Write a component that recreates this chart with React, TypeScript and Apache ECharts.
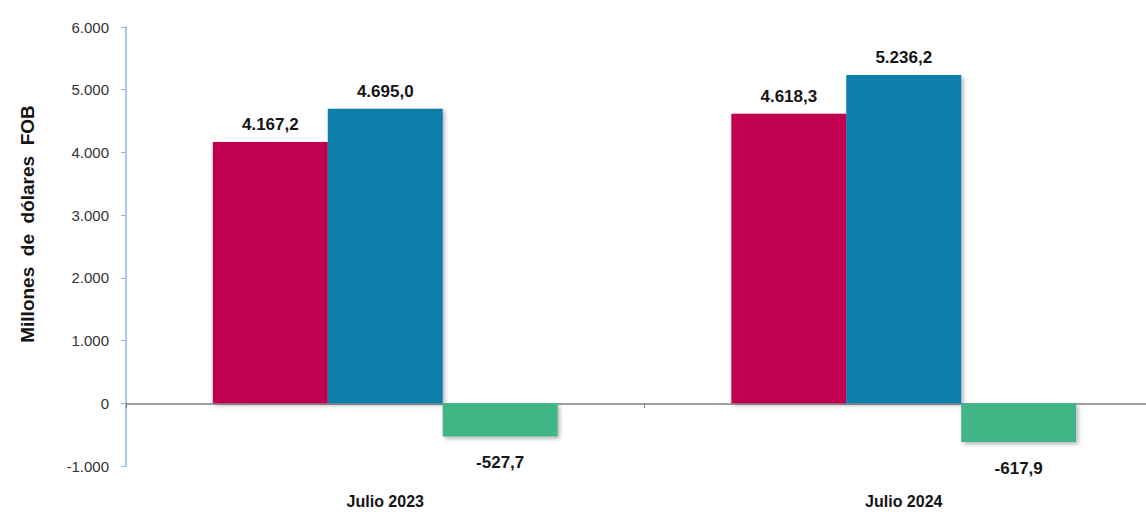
import React, { useEffect, useRef } from "react";
import * as echarts from "echarts";

const categories = ["Julio 2023", "Julio 2024"];
const seriesNames = ["Exportaciones", "Importaciones", "Balanza"];
const exportsValues = [4167.2, 4618.3];
const importsValues = [4695.0, 5236.2];
const balanceValues = [-527.7, -617.9];
const yTicks = { min: -1000, max: 6000, interval: 1000 };
const yAxisTitle = "Millones  de  dólares  FOB";

const colors = ["#C1004F", "#087DAA", "#3FB687"];

function fmtThousands(v: number): string {
  const neg = v < 0;
  const s = Math.abs(Math.round(v)).toString().replace(/\B(?=(\d{3})+(?!\d))/g, ".");
  return (neg ? "-" : "") + s;
}
function fmtValue(v: number): string {
  const neg = v < 0;
  const fixed = Math.abs(v).toFixed(1);
  const [ip, dp] = fixed.split(".");
  const s = ip.replace(/\B(?=(\d{3})+(?!\d))/g, ".");
  return (neg ? "-" : "") + s + "," + dp;
}

export default function App() {
  const ref = useRef<HTMLDivElement>(null);
  useEffect(() => {
    if (!ref.current) return;
    const chart = echarts.init(ref.current, undefined, { renderer: "svg" });
    const font = "'Liberation Sans', Arial, sans-serif";
    const mkSeries = (name: string, data: number[], color: string) => ({
      name,
      type: "bar",
      xAxisIndex: 0,
      data,
      barGap: "0%",
      barCategoryGap: "33.5%",
      itemStyle: {
        color,
        shadowColor: "rgba(0,0,0,0.3)",
        shadowBlur: 4,
        shadowOffsetX: 2,
        shadowOffsetY: 2,
      },
      label: {
        show: true,
        position: data[0] < 0 ? "bottom" : "top",
        distance: data[0] < 0 ? 18 : 9,
        formatter: (p: any) => fmtValue(p.value),
        fontFamily: font,
        fontWeight: "bold",
        fontSize: 17,
        color: "#151515",
      },
    });
    chart.setOption({
      animation: false,
      backgroundColor: "#ffffff",
      grid: {
        left: 126,
        right: -17,
        top: 27,
        bottom: 46,
        containLabel: false,
        outerBoundsMode: "none",
      },
      xAxis: [
        {
          type: "category",
          data: categories,
          axisLine: { onZero: true, lineStyle: { color: "#808080", width: 1.5 } },
          axisTick: { show: true, length: 5, lineStyle: { color: "#808080" } },
          axisLabel: { show: false },
          splitLine: { show: false },
        },
        {
          type: "category",
          data: categories,
          position: "bottom",
          axisLine: { show: false, onZero: false },
          axisTick: { show: false },
          axisLabel: {
            show: true,
            margin: 27,
            fontFamily: font,
            fontWeight: "bold",
            fontSize: 16,
            color: "#151515",
          },
        },
      ],
      yAxis: {
        type: "value",
        min: yTicks.min,
        max: yTicks.max,
        interval: yTicks.interval,
        axisLine: { show: true, lineStyle: { color: "#8EB4E3", width: 1.5 } },
        axisTick: { show: true, length: 5, lineStyle: { color: "#8EB4E3" } },
        splitLine: { show: false },
        axisLabel: {
          margin: 17,
          formatter: (v: number) => fmtThousands(v),
          fontFamily: font,
          fontSize: 15,
          color: "#333333",
        },
      },
      graphic: [
        {
          type: "text",
          x: 27,
          y: 224,
          rotation: Math.PI / 2,
          style: {
            text: yAxisTitle,
            fontFamily: font,
            fontWeight: "bold",
            fontSize: 19,
            fill: "#151515",
            align: "center",
            verticalAlign: "middle",
          },
        },
      ],
      series: [
        mkSeries(seriesNames[0], exportsValues, colors[0]),
        mkSeries(seriesNames[1], importsValues, colors[1]),
        mkSeries(seriesNames[2], balanceValues, colors[2]),
      ],
    });
    return () => chart.dispose();
  }, []);
  return (
    <div
      ref={ref}
      style={{ position: "fixed", left: 0, top: 0, width: 1146, height: 512 }}
    />
  );
}
